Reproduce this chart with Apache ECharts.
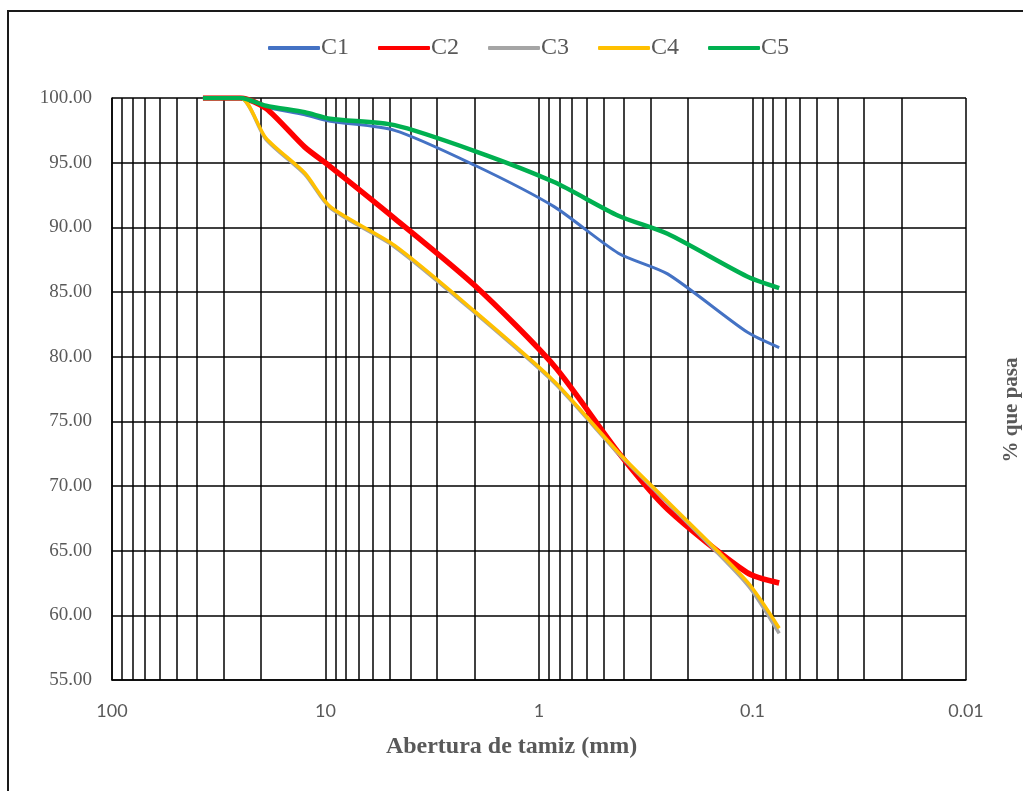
<!DOCTYPE html>
<html>
<head>
<meta charset="utf-8">
<script src="https://cdn.jsdelivr.net/npm/echarts@6/dist/echarts.min.js"></script>
<style>
  html, body { margin: 0; padding: 0; background: #fff; }
  #chart { width: 1023px; height: 791px; }
</style>
</head>
<body>
<div id="chart"></div>
<script>
// tamices (mm) y porcentaje que pasa
var sizes = [37.5, 25, 19, 12.5, 9.5, 4.75, 2.0, 0.85, 0.425, 0.25, 0.106, 0.075];
var c1 = [100, 100, 99.3, 98.7, 98.2, 97.5, 94.8, 91.6, 88.0, 86.4, 81.9, 80.7];
var c2 = [100, 100, 99.2, 96.2, 94.7, 90.7, 85.5, 79.3, 72.6, 68.2, 63.3, 62.5];
var c3 = [100, 100, 96.8, 94.1, 91.5, 88.5, 83.4, 78.0, 72.5, 68.7, 62.4, 58.6];
var c4 = [100, 100, 96.9, 94.2, 91.6, 88.6, 83.5, 78.1, 72.6, 68.8, 62.6, 59.0];
var c5 = [100, 100, 99.4, 98.9, 98.4, 97.9, 95.9, 93.5, 90.9, 89.5, 86.2, 85.3];
var seriesNames = ['C1', 'C2', 'C3', 'C4', 'C5'];
var colors = ['#4472C4', '#FF0000', '#A5A5A5', '#FFC000', '#00B050'];
var widths = [3, 5.5, 3.5, 3.5, 4.5];
var minorLines = [90, 80, 70, 60, 50, 40, 30, 20, 9, 8, 7, 6, 5, 4, 3, 2,
  0.9, 0.8, 0.7, 0.6, 0.5, 0.4, 0.3, 0.2, 0.09, 0.08, 0.07, 0.06, 0.05, 0.04, 0.03, 0.02];

function pairs(vals) {
  return sizes.map(function (s, i) { return [s, vals[i]]; });
}

var chart = echarts.init(document.getElementById('chart'));

var allVals = [c1, c2, c3, c4, c5];
var series = allVals.map(function (vals, i) {
  return {
    name: seriesNames[i],
    type: 'line',
    data: pairs(vals),
    smooth: 0.25,
    symbol: 'none',
    z: 3 + i,
    lineStyle: { color: colors[i], width: widths[i] },
    itemStyle: { color: colors[i] }
  };
});
// lineas secundarias de la grilla logaritmica
series[0].markLine = {
  silent: true,
  symbol: 'none',
  label: { show: false },
  lineStyle: { color: '#000', width: 1.5, type: 'solid' },
  z: 1,
  data: minorLines.map(function (v) { return { xAxis: v }; })
};

var option = {
  animation: false,
  legend: {
    top: 31,
    left: 263,
    icon: 'roundRect',
    itemWidth: 52,
    itemHeight: 4,
    itemGap: 29,
    textStyle: { fontFamily: 'Liberation Serif', fontSize: 24, color: '#595959', padding: [0, 0, 0, -4] },
    data: seriesNames
  },
  grid: { left: 112, right: 57, top: 98, bottom: 111 },
  xAxis: {
    type: 'log',
    logBase: 10,
    min: 0.01,
    max: 100,
    inverse: true,
    axisLine: { lineStyle: { color: '#000', width: 1.5 } },
    axisTick: { show: false },
    splitLine: { show: true, lineStyle: { color: '#000', width: 1.5 } },
    axisLabel: {
      margin: 22,
      fontFamily: 'Lato',
      fontSize: 18,
      color: '#595959',
      formatter: function (v) { return String(+v.toPrecision(3)); }
    }
  },
  yAxis: {
    type: 'value',
    min: 55,
    max: 100,
    interval: 5,
    axisLine: { show: true, lineStyle: { color: '#000', width: 1.5 } },
    axisTick: { show: false },
    splitLine: { show: true, lineStyle: { color: '#000', width: 1.5 } },
    axisLabel: {
      margin: 20,
      fontFamily: 'Liberation Serif',
      fontSize: 19,
      color: '#595959',
      formatter: function (v) { return v.toFixed(2); }
    }
  },
  graphic: [
    {
      type: 'rect',
      shape: { x: 8, y: 11, width: 1200, height: 900 },
      style: { fill: 'none', stroke: '#1a1a1a', lineWidth: 2 },
      silent: true,
      z: -10
    },
    {
      type: 'text',
      left: 'center',
      top: 735,
      style: {
        text: 'Abertura de tamiz (mm)',
        font: 'bold 24px "Liberation Serif"',
        fill: '#595959'
      }
    },
    {
      type: 'text',
      x: 1001,
      y: 410,
      rotation: Math.PI / 2,
      style: {
        text: '% que pasa',
        font: 'bold 21px "Liberation Serif"',
        fill: '#595959',
        align: 'center',
        verticalAlign: 'top'
      }
    }
  ],
  series: series
};

chart.setOption(option);
</script>
</body>
</html>
